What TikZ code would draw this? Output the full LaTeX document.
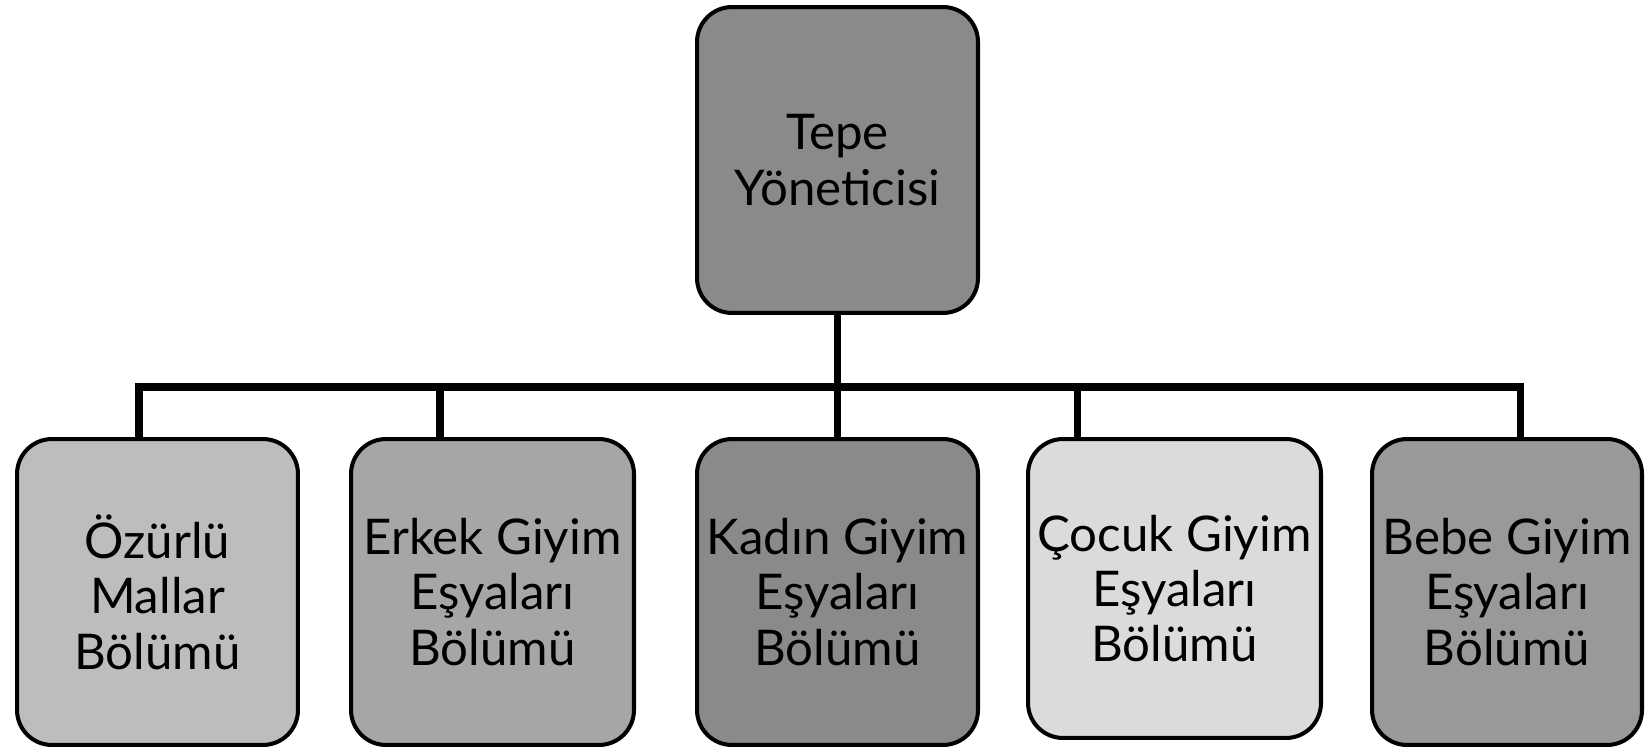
\documentclass[tikz,border=0pt]{standalone}
\usepackage{fontspec}
\setmainfont{Lato}
\usepackage{tikz}
\usetikzlibrary{positioning}
\usepackage{xcolor}
\definecolor{koyugri}{gray}{0.54}
\definecolor{acikgri}{gray}{0.74}
\definecolor{ortagri}{gray}{0.65}
\definecolor{solukgri}{gray}{0.86}
\definecolor{bebegri}{gray}{0.60}

\begin{document}
\begin{tikzpicture}[x=0.02cm, y=-0.02cm,
		birim/.style={draw=black, line width=2.3pt, rounded corners=0.7cm, minimum width=5.62cm, minimum height=6.12cm, align=center, inner sep=0pt, font=\fontsize{28}{31.5}\selectfont},
		hat/.style={black, line width=4pt}]
			    		\useasboundingbox (0,0) rectangle (1645,749);
			    		\node[birim, fill=koyugri] (tepe) at (837.5,160) {Tepe\\Yöneticisi};
			    		\node[birim, fill=acikgri, minimum width=5.62cm] (ozurlu) at (157.5,592) {Özürlü\\Mallar\\Bölümü};
			    		\node[birim, fill=ortagri, minimum width=5.66cm] (erkek) at (492.5,592) {Erkek Giyim\\Eşyaları\\Bölümü};
			    		\node[birim, fill=koyugri] (kadin) at (837.5,592) {Kadın Giyim\\Eşyaları\\Bölümü};
			    		\node[birim, fill=solukgri, minimum width=5.86cm, minimum height=5.98cm] (cocuk) at (1174.5,588.5) {Çocuk Giyim\\Eşyaları\\Bölümü};
			    		\node[birim, fill=bebegri, minimum width=5.4cm] (bebe) at (1507,592) {Bebe Giyim\\Eşyaları\\Bölümü};
						\coordinate (b1) at (139,387);
						\coordinate (b2) at (440,387);
						\coordinate (b4) at (1077,387);
						\coordinate (b5) at (1520,387);
						\draw[hat] (ozurlu.north -| b1) -- (b1) -- (b5) -- (bebe.north -| b5);
						\draw[hat] (tepe.south) -- (kadin.north);
						\draw[hat] (b2) -- (erkek.north -| b2);
						\draw[hat] (b4) -- (cocuk.north -| b4);
			    	\end{tikzpicture}
\end{document}
